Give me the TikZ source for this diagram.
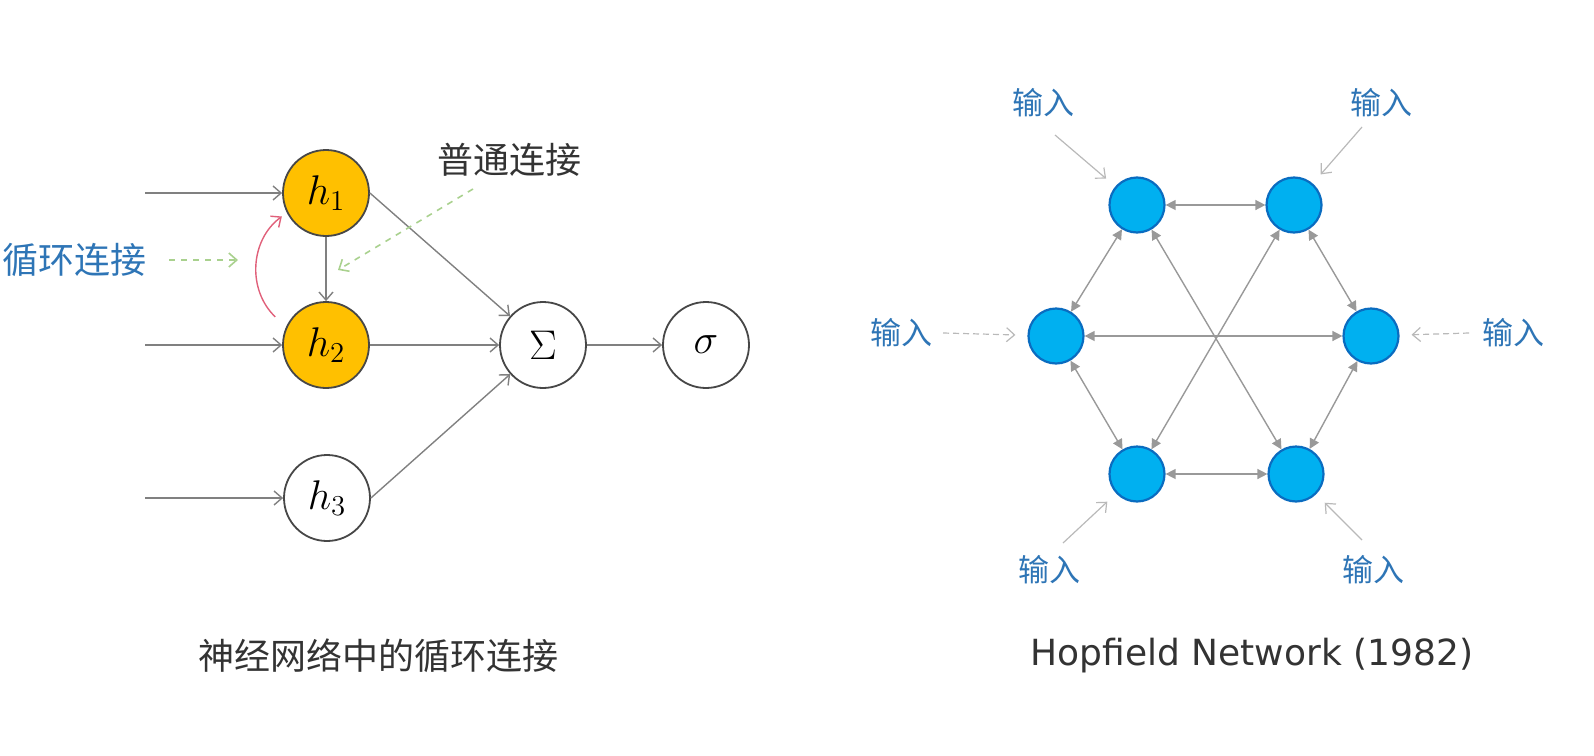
\documentclass[tikz,border=0pt]{standalone}
\usepackage{fontspec}
\newfontfamily\cjk{Noto Sans CJK SC}
\newfontfamily\latinsans{DejaVu Sans}
\usepackage{tikz}
\usetikzlibrary{arrows.meta, positioning, calc}

\definecolor{neuron}{HTML}{FFC000}
\definecolor{hopfill}{HTML}{00B0F0}
\definecolor{hopdraw}{HTML}{0A6CC0}
\definecolor{labelblue}{HTML}{2E75B6}
\definecolor{notegreen}{HTML}{A9D18E}
\definecolor{recurred}{HTML}{E0607A}
\definecolor{edgegray}{HTML}{808080}
\definecolor{textdark}{HTML}{333333}

\begin{document}
\begin{tikzpicture}[
  x=0.5pt, y=-0.5pt,
  unit/.style  = {draw=textdark!90, line width=0.9pt, circle, minimum size=43pt, inner sep=0pt,
                  font=\fontsize{20}{24}\selectfont},
  hop/.style   = {draw=hopdraw, line width=1.1pt, circle, fill=hopfill, minimum size=27.5pt, inner sep=0pt},
  conn/.style  = {draw=edgegray, line width=0.7pt, -{Straight Barb[length=4pt,width=7pt]}},
  note/.style  = {draw=notegreen, line width=0.8pt, dashed, -{Straight Barb[length=4pt,width=7pt]}},
  recur/.style = {draw=recurred, line width=0.7pt, -{Straight Barb[length=4pt,width=7pt]}},
  link/.style  = {draw=edgegray!80, line width=0.7pt,
                  {Triangle[length=5pt,width=5pt]}-{Triangle[length=5pt,width=5pt]}},
  feed/.style  = {draw=gray!55, line width=0.6pt, shorten >=6pt, -{Straight Barb[length=4pt,width=7pt]}},
  inlbl/.style = {text=labelblue, font=\cjk\fontsize{15.5}{18}\selectfont, inner sep=0pt},
  caption/.style = {text=textdark, inner sep=0pt}
]
  \useasboundingbox (0,0) rectangle (1594,755);

  % Left: recurrent connection in a neural network
  \node[unit, fill=neuron] (h1) at (326,193) {$h_1$};
  \node[unit, fill=neuron] (h2) at (326,345) {$h_2$};
  \node[unit] (h3) at (327,498) {$h_3$};
  \node[unit] (sum) at (543,345) {$\Sigma$};
  \node[unit] (sig) at (706,345) {$\sigma$};

  \coordinate (in1) at (145,193);
  \coordinate (in2) at (145,345);
  \coordinate (in3) at (145,498);
  \draw[conn] (in1) -- (h1);
  \draw[conn] (in2) -- (h2);
  \draw[conn] (in3) -- (h3);

  \draw[conn] (h1) -- (h2);
  \draw[conn] (h1.east) -- (sum);
  \draw[conn] (h2) -- (sum);
  \draw[conn] (h3.east) -- (sum);
  \draw[conn] (sum) -- (sig);

  % recurrent arc h2 -> h1
  \draw[recur] ($(h2)+(151:29pt)$) to[bend left=50] ($(h1)+(208:25pt)$);

  % annotations
  \node[text=labelblue, font=\cjk\fontsize{18}{20}\selectfont, inner sep=0pt] (looplbl) at (75,260) {循环连接};
  \node[text=textdark, font=\cjk\fontsize{18}{20}\selectfont, inner sep=0pt] (plainlbl) at (509,160) {普通连接};
  \coordinate (loopend) at (238,260);
  \coordinate (plainstart) at (473,189);
  \coordinate (plainend) at (338,270);
  \draw[note] ([xshift=11pt]looplbl.east) -- (loopend);
  \draw[note] (plainstart) -- (plainend);

  \node[caption, font=\cjk\fontsize{18}{20}\selectfont] (capleft) at (378,656) {神经网络中的循环连接};

  % Right: Hopfield network
  \node[hop] (tl) at (1137,205) {};
  \node[hop] (tr) at (1294,205) {};
  \node[hop] (ml) at (1056,336) {};
  \node[hop] (mr) at (1371,336) {};
  \node[hop] (bl) at (1137,474) {};
  \node[hop] (br) at (1296,474) {};

  \foreach \a/\b in {tl/tr, bl/br, ml/mr, tl/ml, tr/mr, ml/bl, mr/br, tl/br, tr/bl}
    \draw[link] (\a) -- (\b);

  % inputs
  \node[inlbl] (intl) at (1043,103) {输入};
  \node[inlbl] (intr) at (1381,103) {输入};
  \node[inlbl] (inml) at (901,333) {输入};
  \node[inlbl] (inmr) at (1513,333) {输入};
  \node[inlbl] (inbl) at (1049,570) {输入};
  \node[inlbl] (inbr) at (1373,570) {输入};

  \coordinate (ftl) at (1055,135);
  \coordinate (ftr) at (1362,127);
  \coordinate (fml) at (943,333);
  \coordinate (fmr) at (1469,333);
  \coordinate (fbl) at (1063,543);
  \coordinate (fbr) at (1362,540);
  \draw[feed] (ftl) -- (tl);
  \draw[feed] (ftr) -- (tr);
  \draw[feed, densely dashed] (fml) -- (ml);
  \draw[feed, densely dashed] (fmr) -- (mr);
  \draw[feed] (fbl) -- (bl);
  \draw[feed] (fbr) -- (br);

  \node[caption, font=\latinsans\fontsize{18}{20}\selectfont] (capright) at (1252,656) {Hopfield Network (1982)};
\end{tikzpicture}
\end{document}
